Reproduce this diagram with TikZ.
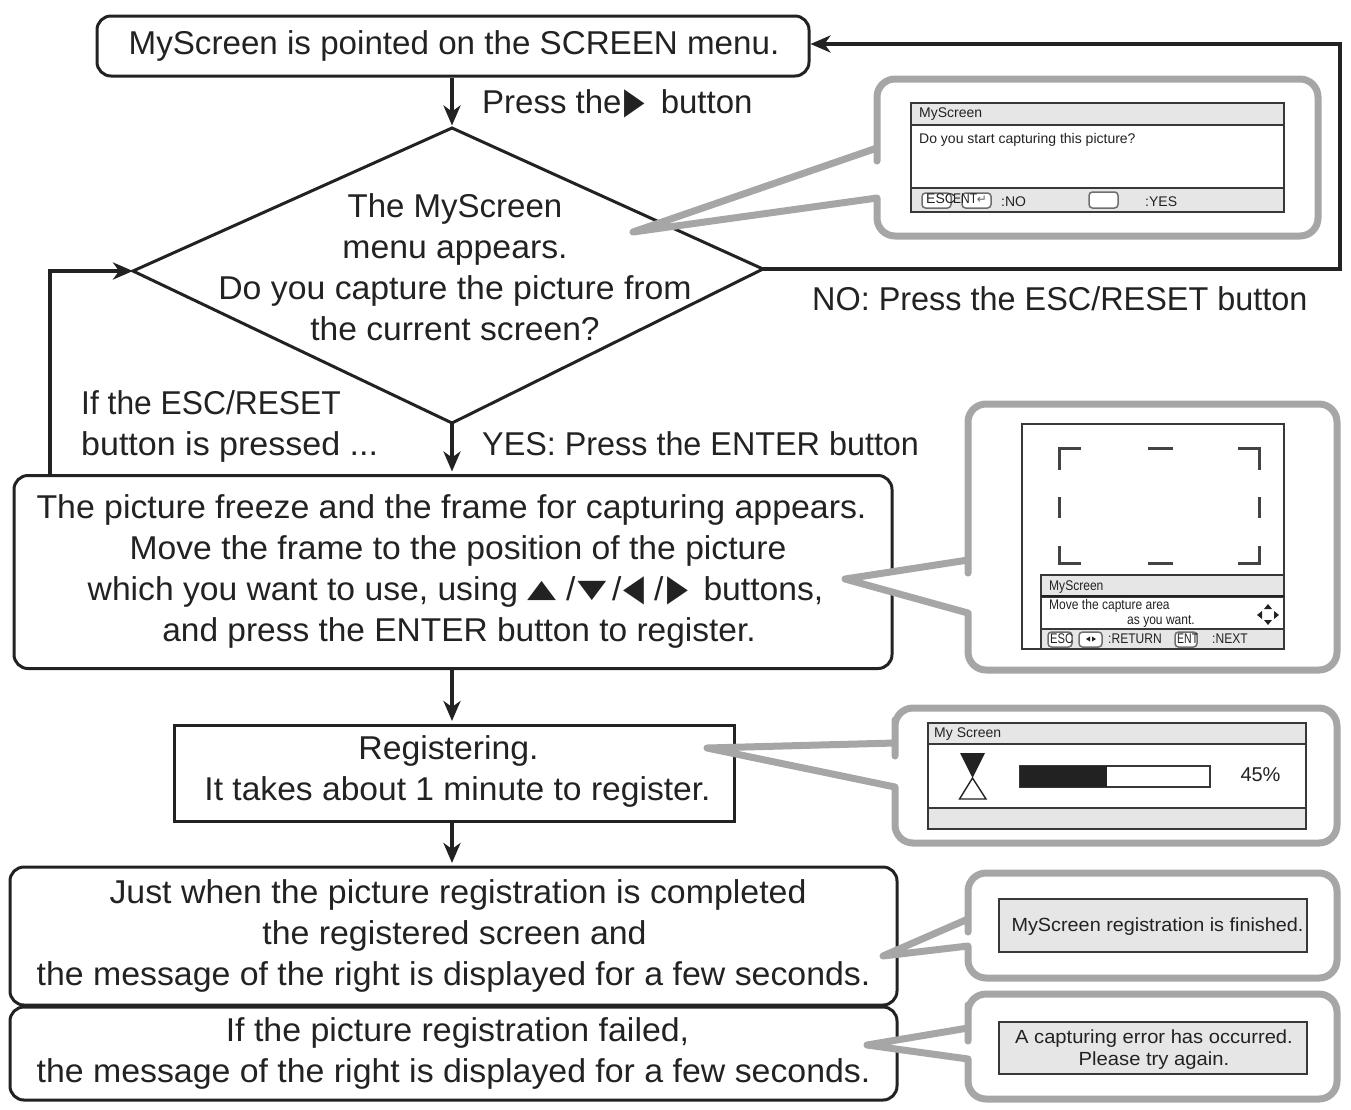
\documentclass[tikz,border=0pt]{standalone}
\usepackage{fontspec}
\setmainfont{Liberation Sans}
\newfontfamily\symf{DejaVu Sans}
\usetikzlibrary{shapes.geometric,arrows.meta,calc}
\definecolor{ink}{HTML}{222222}
\definecolor{callgray}{HTML}{A6A6A6}
\definecolor{panel}{HTML}{E6E6E6}
\newcommand{\bigt}{\fontsize{33}{41}\selectfont}
\newcommand{\trih}[2][21]{\smash{\makebox[#1pt][c]{\scalebox{.72}[1]{\symf\fontsize{37}{37}\selectfont #2}}}}
\newcommand{\triv}[2][28]{\smash{\makebox[#1pt][c]{\raisebox{3pt}{\scalebox{1}[.68]{\symf\fontsize{37}{37}\selectfont #2}}}}}
\newcommand{\sline}[3]{\hspace*{#2pt}\scalebox{#1}[1]{#3}}
\newcommand{\nar}[1]{\scalebox{.86}[1]{#1}}
\tikzset{
  x=1pt,y=-1pt,
  flowbox/.style={draw=ink,line width=3pt,rounded corners=14pt,inner sep=0pt,align=center,text=ink,font=\bigt},
  plainbox/.style={draw=ink,line width=3pt,inner sep=0pt,align=center,text=ink,font=\bigt},
  lbl/.style={inner sep=0pt,align=left,text=ink,font=\bigt},
  flow/.style={draw=ink,line width=4.5pt,shorten >=2.5pt,-{Stealth[length=20pt,width=17pt,inset=6pt]}},
  callout/.style={draw=callgray,line width=7pt,fill=white,line join=round},
  scr/.style={draw=ink!90,line width=1.6pt},
  scrfill/.style={scr,fill=panel},
  small/.style={inner sep=0pt,text=ink,font=\fontsize{14}{16}\selectfont},
  msg/.style={inner sep=0pt,text=ink,align=center,font=\fontsize{19}{22}\selectfont},
  btn/.style={draw=ink!65,line width=1.5pt,rounded corners=3.5pt,fill=white},
  framemark/.style={draw=ink!85,line width=3pt},
}
\begin{document}
\begin{tikzpicture}
\useasboundingbox (0,0) rectangle (1351,1109);
% flow nodes
\node[flowbox,minimum width=712pt,minimum height=60pt] (start) at (453,46) {\sline{1.005}{2}{MyScreen is pointed on the SCREEN menu.}};
\coordinate (dt) at (452,128);
\coordinate (dl) at (133,271);
\coordinate (dr) at (763,269);
\coordinate (db) at (452,423);
\draw[draw=ink,line width=3pt,line join=miter] (dt) -- (dr) -- (db) -- (dl) -- cycle;
\node[inner sep=0pt,align=center,text=ink,font=\bigt] (asktext) at (455,267) {The MyScreen\\\sline{1.023}{0}{menu appears.}\\\sline{1.024}{0}{Do you capture the picture from}\\\sline{1.018}{0}{the current screen?}};
\node[flowbox,minimum width=878pt,minimum height=193pt] (frame) at (453,572) {\strut};
\node[inner sep=0pt,align=center,text=ink,font=\bigt] (frametext) at (453,571) {\sline{1.026}{-3}{The picture freeze and the frame for capturing appears.}\\\sline{1.02}{10}{Move the frame to the position of the picture}\\\sline{1.02}{5}{which you want to use, using \triv{▲}\hspace{10pt}/\hspace{2pt}\triv{▼}\hspace{6pt}/\hspace{2pt}\trih{◀}\hspace{9pt}/\hspace{4pt}\trih{▶}\hspace{5pt} buttons,}\\\sline{1.014}{12}{and press the ENTER button to register.}};
\node[plainbox,minimum width=560pt,minimum height=96pt] (reg) at (454,773) {\strut};
\node[inner sep=0pt,align=center,text=ink,font=\bigt] (regtext) at (453,771) {\sline{1.023}{-9}{Registering.}\\\sline{1.018}{9}{It takes about 1 minute to register.}};
\node[flowbox,minimum width=887pt,minimum height=138pt] (done) at (453.5,936) {\strut};
\node[inner sep=0pt,align=center,text=ink,font=\bigt] (donetext) at (453.5,936) {\sline{1.027}{9}{Just when the picture registration is completed}\\\sline{1.027}{2}{the registered screen and}\\\sline{1.026}{0}{the message of the right is displayed for a few seconds.}};
\node[flowbox,minimum width=887pt,minimum height=93pt] (fail) at (453.5,1053.5) {\sline{1.027}{8}{If the picture registration failed,}\\\sline{1.026}{0}{the message of the right is displayed for a few seconds.}};
% connectors
\coordinate (fbr) at (1340,44);
\coordinate (fbl) at (50,271);
\draw[flow] (start.south -| dt) -- (dt);
\draw[flow] (db) -- (frame.north -| db);
\draw[flow] (frame.south -| db) -- (reg.north -| db);
\draw[flow] (reg.south -| db) -- (done.north -| db);
\draw[flow,line join=miter,shorten >=0pt] (dr) -| (fbr) -- (start.east |- fbr);
\draw[flow,line join=miter,shorten >=0pt] (frame.north -| fbl) -- (fbl) -- (dl);
% callouts
\path[callout] (877,148) -- (633,232) -- (877,198) -- (877,203) [rounded corners=18pt] -- (877,236) -- (1318,236) -- (1318,79) -- (877,79) -- (877,143) [sharp corners] -- cycle;
\path[callout] (968,560) -- (845,579) -- (968,613) -- (968,618) [rounded corners=18pt] -- (968,670) -- (1337,670) -- (1337,404) -- (968,404) -- (968,555) [sharp corners] -- cycle;
\path[callout] (895,743) -- (707,748) -- (895,787) -- (895,792) [rounded corners=18pt] -- (895,843) -- (1337,843) -- (1337,708) -- (895,708) -- (895,738) [sharp corners] -- cycle;
\path[callout] (968,919) -- (883,956) -- (968,946) -- (968,950) [rounded corners=18pt] -- (968,978) -- (1337,978) -- (1337,873) -- (968,873) -- (968,914) [sharp corners] -- cycle;
\path[callout] (968,1028) -- (867,1045) -- (968,1059) -- (968,1063) [rounded corners=18pt] -- (968,1099) -- (1337,1099) -- (1337,994) -- (968,994) -- (968,1023) [sharp corners] -- cycle;
% labels
\node[lbl,anchor=west] (l1) at (482,101.5) {Press the\hspace{3pt}\trih{▶}\hspace{6pt} button};
\node[lbl,anchor=west] (l2) at (812,299) {\sline{.982}{0}{NO: Press the ESC/RESET button}};
\node[lbl,anchor=west] (l3) at (81,426) {\sline{.963}{0}{If the ESC/RESET}\\\sline{1.031}{0}{button is pressed ...}};
\node[lbl,anchor=west] (l4) at (482,444) {\sline{.98}{0}{YES: Press the ENTER button}};
% screen 1
\draw[scrfill] (911,103) rectangle (1284,212);
\draw[scr,fill=white] (911,125) rectangle (1284,188);
\node[small,anchor=west] (s1a) at (919,114) {MyScreen};
\node[small,anchor=west] (s1b) at (919,140) {Do you start capturing this picture?};
\draw[btn] (922,193) rectangle (951,208);
\draw[btn] (962,193) rectangle (991,208);
\node[small,anchor=west] (s1c) at (926,199) {ESC};
\node[small,anchor=west] (s1d) at (953,199) {\nar{ENT}};
\node[inner sep=0pt,text=ink!70,font=\symf\fontsize{12}{12}\selectfont] (s1g) at (982,200) {↵};
\node[small,anchor=west] (s1e) at (1001,202) {:NO};
\draw[btn] (1089,192) rectangle (1118,208);
\node[small,anchor=west] (s1f) at (1145,202) {:YES};
% screen 2
\draw[scr,fill=white] (1022,424) rectangle (1284,649);
\draw[framemark] (1059,470) -- (1059,448) -- (1081,448);
\draw[framemark] (1238,448) -- (1259,448) -- (1259,470);
\draw[framemark] (1059,546) -- (1059,563) -- (1081,563);
\draw[framemark] (1238,563) -- (1259,563) -- (1259,546);
\draw[framemark] (1148,448) -- (1173,448);
\draw[framemark] (1148,563) -- (1173,563);
\draw[framemark] (1059,497) -- (1059,518);
\draw[framemark] (1259,497) -- (1259,518);
\draw[scrfill] (1041,575) rectangle (1284,649);
\draw[scr,fill=white] (1041,597) rectangle (1284,629);
\draw[ink,line width=1.5pt] (1041,596) -- (1284,596);
\node[small,anchor=west] (s2a) at (1049,587) {\nar{MyScreen}};
\node[small,anchor=west] (s2b) at (1049,606) {\nar{Move the capture area}};
\node[small,anchor=west] (s2c) at (1127,621) {\nar{as you want.}};
\draw[btn] (1048,632) rectangle (1072,647);
\draw[btn] (1079,632) rectangle (1102,647);
\draw[btn] (1175,632) rectangle (1197,647);
\node[small,anchor=west] (s2d) at (1050,639) {\scalebox{.8}[1]{ESC}};
\fill[ink] (1086,639) -- (1090,636.5) -- (1090,641.5) -- cycle;
\fill[ink] (1096,639) -- (1092,636.5) -- (1092,641.5) -- cycle;
\node[small,anchor=west] (s2e) at (1108,639) {\nar{:RETURN}};
\node[small,anchor=west] (s2f) at (1177,639) {\scalebox{.75}[1]{ENT}};
\node[small,anchor=west] (s2g) at (1212,639) {\nar{:NEXT}};
\fill[ink] (1268,604) -- (1272,609) -- (1264,609) -- cycle;
\fill[ink] (1268,625) -- (1272,620) -- (1264,620) -- cycle;
\fill[ink] (1257,615) -- (1262,611) -- (1262,619) -- cycle;
\fill[ink] (1279,615) -- (1274,611) -- (1274,619) -- cycle;
% screen 3
\draw[scrfill] (928,723) rectangle (1306,829);
\draw[scr,fill=white] (928,744) rectangle (1306,808);
\node[small,anchor=west] (s3a) at (934,734) {My Screen};
\fill[ink] (960,753) -- (985,753) -- (972.5,778) -- cycle;
\draw[ink,line width=1.4pt] (972.5,778) -- (959.5,799) -- (986,799) -- cycle;
\draw[scr,fill=white] (1020,766) rectangle (1210,787);
\fill[ink] (1020,766) rectangle (1107,787);
\node[inner sep=0pt,text=ink,font=\fontsize{20}{22}\selectfont] (s3b) at (1260.5,775) {45\%};
% screens 4 and 5
\node[scrfill,minimum width=308pt,minimum height=53pt,inner sep=0pt] (m1) at (1153,925.5) {};
\node[msg] (m1t) at (1157.5,927) {\scalebox{1.043}[1]{MyScreen registration is finished.}};
\node[scrfill,minimum width=308pt,minimum height=52pt,inner sep=0pt] (m2) at (1153,1048) {};
\node[msg] (m2t) at (1154,1050) {\scalebox{1.06}[1]{A capturing error has occurred.}\\\scalebox{1.064}[1]{Please try again.}};
\end{tikzpicture}
\end{document}
